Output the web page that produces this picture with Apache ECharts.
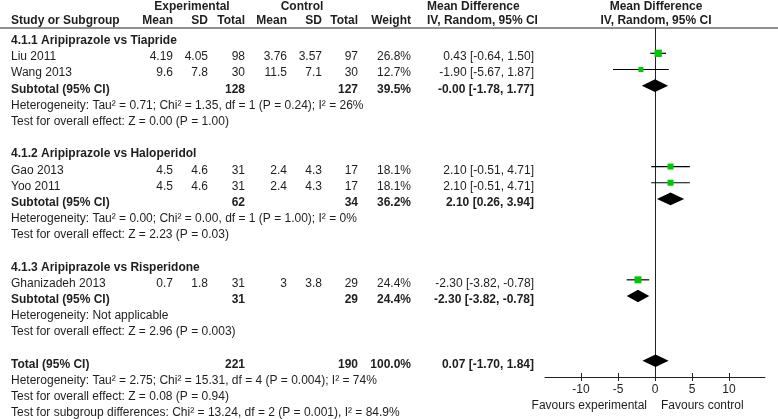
<!DOCTYPE html>
<html><head><meta charset="utf-8">
<script src="https://cdn.jsdelivr.net/npm/echarts@6/dist/echarts.min.js"></script>
<style>html,body{margin:0;padding:0;background:#fff}#c{width:778px;height:419px}</style>
</head><body><div id="c"></div>
<script>
// ---------------- data ----------------
const groupTitles = ['4.1.1 Aripiprazole vs Tiapride', '4.1.2 Aripiprazole vs Haloperidol', '4.1.3 Aripiprazole vs Risperidone'];
const studyNames = ['Liu 2011', 'Wang 2013', 'Gao 2013', 'Yoo 2011', 'Ghanizadeh 2013'];
const studyGroup = [0, 0, 1, 1, 2];
const expMean = [4.19, 9.6, 4.5, 4.5, 0.7];
const expSD = [4.05, 7.8, 4.6, 4.6, 1.8];
const expTotal = [98, 30, 31, 31, 31];
const ctlMean = [3.76, 11.5, 2.4, 2.4, 3];
const ctlSD = [3.57, 7.1, 4.3, 4.3, 3.8];
const ctlTotal = [97, 30, 17, 17, 29];
const studyWeight = [26.8, 12.7, 18.1, 18.1, 24.4];
const mdEst = [0.43, -1.90, 2.10, 2.10, -2.30];
const mdLo = [-0.64, -5.67, -0.51, -0.51, -3.82];
const mdHi = [1.50, 1.87, 4.71, 4.71, -0.78];

const subExpTotal = [128, 62, 31];
const subCtlTotal = [127, 34, 29];
const subWeight = [39.5, 36.2, 24.4];
const subEst = [-0.001, 2.10, -2.30];
const subLo = [-1.78, 0.26, -3.82];
const subHi = [1.77, 3.94, -0.78];
const subHet = [
  'Heterogeneity: Tau\u00b2 = 0.71; Chi\u00b2 = 1.35, df = 1 (P = 0.24); I\u00b2 = 26%',
  'Heterogeneity: Tau\u00b2 = 0.00; Chi\u00b2 = 0.00, df = 1 (P = 1.00); I\u00b2 = 0%',
  'Heterogeneity: Not applicable'];
const subTest = [
  'Test for overall effect: Z = 0.00 (P = 1.00)',
  'Test for overall effect: Z = 2.23 (P = 0.03)',
  'Test for overall effect: Z = 2.96 (P = 0.003)'];

const totalExp = 221, totalCtl = 190, totalWeight = 100.0;
const totalEst = 0.07, totalLo = -1.70, totalHi = 1.84;
const totalHet = 'Heterogeneity: Tau\u00b2 = 2.75; Chi\u00b2 = 15.31, df = 4 (P = 0.004); I\u00b2 = 74%';
const totalTest = 'Test for overall effect: Z = 0.08 (P = 0.94)';
const subgroupTest = 'Test for subgroup differences: Chi\u00b2 = 13.24, df = 2 (P = 0.001), I\u00b2 = 84.9%';

const tickValues = [-10, -5, 0, 5, 10];
const axisMin = -14.86, axisMax = 14.86;
const favourLeft = 'Favours experimental', favourRight = 'Favours control';

// ---------------- layout ----------------
const FONT = '"Liberation Sans", Arial, Helvetica, sans-serif';
const TXT = '#1e1e1e';
const ROW_H = 16.18;
const GRID_TOP = 28, GRID_H = 349, GRID_LEFT = 545, GRID_W = 220;
const MARK_Y3 = 53.3;             // pixel of row 3 marker
const TEXT_DY = 3.7;              // text sits a bit lower than the marker
const yMin = 3 - (MARK_Y3 - GRID_TOP) / ROW_H;
const yMax = yMin + GRID_H / ROW_H;
const textY = r => MARK_Y3 + (r - 3) * ROW_H + TEXT_DY;

const COL = {name: 11, expMean: 173, expSD: 208, expTotal: 245, ctlMean: 287, ctlSD: 322, ctlTotal: 358, weight: 411, ci: 534};

const fmt2 = v => v.toFixed(2);
const ciText = (e, l, h) => fmt2(e) + ' [' + fmt2(l) + ', ' + fmt2(h) + ']';

// build row structure
let row = 2;
const studyRow = [], subRow = [];
const texts = [];
function T(x, y, s, align, bold) {
  texts.push({type: 'text', x: x, y: y, silent: true,
    style: {text: s, fill: TXT, font: (bold ? 'bold ' : '') + '12px ' + FONT,
      align: align, verticalAlign: 'middle', textAlign: align, textVerticalAlign: 'middle'}});
}
groupTitles.forEach((g, gi) => {
  T(COL.name, textY(row), g, 'left', true); row++;
  studyNames.forEach((n, i) => {
    if (studyGroup[i] !== gi) return;
    studyRow[i] = row;
    const y = textY(row);
    T(COL.name, y, n, 'left', false);
    T(COL.expMean, y, String(expMean[i]), 'right');
    T(COL.expSD, y, String(expSD[i]), 'right');
    T(COL.expTotal, y, String(expTotal[i]), 'right');
    T(COL.ctlMean, y, String(ctlMean[i]), 'right');
    T(COL.ctlSD, y, String(ctlSD[i]), 'right');
    T(COL.ctlTotal, y, String(ctlTotal[i]), 'right');
    T(COL.weight, y, studyWeight[i].toFixed(1) + '%', 'right');
    T(COL.ci, y, ciText(mdEst[i], mdLo[i], mdHi[i]), 'right');
    row++;
  });
  subRow[gi] = row;
  let y = textY(row);
  T(COL.name, y, 'Subtotal (95% CI)', 'left', true);
  T(COL.expTotal, y, String(subExpTotal[gi]), 'right', true);
  T(COL.ctlTotal, y, String(subCtlTotal[gi]), 'right', true);
  T(COL.weight, y, subWeight[gi].toFixed(1) + '%', 'right', true);
  T(COL.ci, y, ciText(subEst[gi], subLo[gi], subHi[gi]), 'right', true);
  row++;
  T(COL.name, textY(row), subHet[gi], 'left'); row++;
  T(COL.name, textY(row), subTest[gi], 'left'); row++;
  row++; // blank
});
const totalRow = row;
{
  const y = textY(row);
  T(COL.name, y, 'Total (95% CI)', 'left', true);
  T(COL.expTotal, y, String(totalExp), 'right', true);
  T(COL.ctlTotal, y, String(totalCtl), 'right', true);
  T(COL.weight, y, totalWeight.toFixed(1) + '%', 'right', true);
  T(COL.ci, y, ciText(totalEst, totalLo, totalHi), 'right', true);
  row++;
  T(COL.name, textY(row), totalHet, 'left'); row++;
  T(COL.name, textY(row), totalTest, 'left'); row++;
  T(COL.name, textY(row), subgroupTest, 'left'); row++;
}
// headers
const H1 = 6.5, H2 = 20.5;
T(192, H1, 'Experimental', 'center', true);
T(302, H1, 'Control', 'center', true);
T(427, H1, 'Mean Difference', 'left', true);
T(656, H1, 'Mean Difference', 'center', true);
T(COL.name, H2, 'Study or Subgroup', 'left', true);
T(COL.expMean, H2, 'Mean', 'right', true);
T(COL.expSD, H2, 'SD', 'right', true);
T(COL.expTotal, H2, 'Total', 'right', true);
T(COL.ctlMean, H2, 'Mean', 'right', true);
T(COL.ctlSD, H2, 'SD', 'right', true);
T(COL.ctlTotal, H2, 'Total', 'right', true);
T(COL.weight, H2, 'Weight', 'right', true);
T(427, H2, 'IV, Random, 95% CI', 'left', true);
T(656, H2, 'IV, Random, 95% CI', 'center', true);
// favours
T(647, 405.5, favourLeft, 'right');
T(661, 405.5, favourRight, 'left');
// header rule
texts.push({type: 'line', silent: true, shape: {x1: 0, y1: 28, x2: 778, y2: 28}, style: {stroke: '#222', lineWidth: 1}});

const studyData = studyNames.map((n, i) => [mdEst[i], studyRow[i], mdLo[i], mdHi[i], studyWeight[i]]);
const diamondData = subEst.map((e, i) => [e, subRow[i], subLo[i], subHi[i]]).concat([[totalEst, totalRow, totalLo, totalHi]]);

const chart = echarts.init(document.getElementById('c'), null, {renderer: 'canvas'});
chart.setOption({
  animation: false,
  backgroundColor: '#fff',
  grid: {left: GRID_LEFT, top: GRID_TOP, width: GRID_W, height: GRID_H, containLabel: false},
  xAxis: [{
    type: 'value', min: axisMin, max: axisMax,
    axisLine: {show: true, onZero: false, lineStyle: {color: '#222', width: 1}},
    axisTick: {show: true, length: 4, customValues: tickValues, lineStyle: {color: '#222', width: 1}},
    axisLabel: {show: true, customValues: tickValues, margin: 7, color: TXT, fontSize: 12, fontFamily: FONT},
    splitLine: {show: false}
  }, {
    type: 'value', min: axisMin, max: axisMax, position: 'bottom',
    axisLine: {show: false, onZero: false},
    axisTick: {show: true, inside: true, length: 4, customValues: tickValues, lineStyle: {color: '#222', width: 1}},
    axisLabel: {show: false},
    splitLine: {show: false}
  }],
  yAxis: {
    type: 'value', inverse: true, min: yMin, max: yMax,
    axisLine: {show: true, onZero: true, lineStyle: {color: '#222', width: 1}},
    axisTick: {show: false}, axisLabel: {show: false}, splitLine: {show: false}
  },
  series: [{
    type: 'custom', data: studyData, encode: {x: [0, 2, 3], y: 1},
    renderItem: (params, api) => {
      const y = api.value(1);
      const c = api.coord([api.value(0), y]);
      const l = api.coord([api.value(2), y]);
      const h = api.coord([api.value(3), y]);
      const s = 1.41 * Math.sqrt(api.value(4));
      return {type: 'group', children: [
        {type: 'line', shape: {x1: l[0], y1: c[1], x2: h[0], y2: c[1]}, style: {stroke: '#000', lineWidth: 1.2}},
        {type: 'rect', shape: {x: c[0] - s / 2, y: c[1] - s / 2, width: s, height: s}, style: {fill: '#00c800'}}
      ]};
    }
  }, {
    type: 'custom', data: diamondData, encode: {x: [0, 2, 3], y: 1},
    renderItem: (params, api) => {
      const y = api.value(1);
      const c = api.coord([api.value(0), y]);
      const l = api.coord([api.value(2), y]);
      const h = api.coord([api.value(3), y]);
      return {type: 'polygon', shape: {points: [[l[0], c[1]], [c[0], c[1] - 6.3], [h[0], c[1]], [c[0], c[1] + 6.3]]},
        style: {fill: '#000'}};
    }
  }],
  graphic: {elements: texts}
});
</script></body></html>
